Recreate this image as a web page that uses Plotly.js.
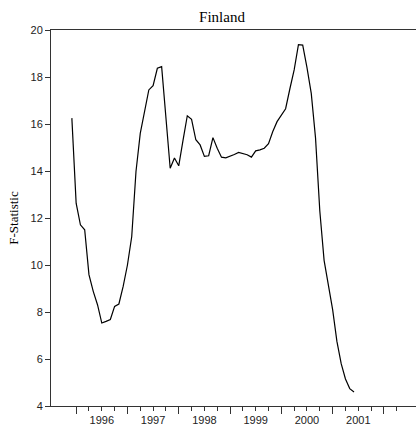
<!DOCTYPE html>
<html>
<head>
<meta charset="utf-8">
<script src="https://cdn.plot.ly/plotly-3.0.1.min.js"></script>
<style>html,body{margin:0;padding:0;background:#fff;}#chart{width:416px;height:427px;}</style>
</head>
<body>
<div id="chart"></div>
<script>
// Monthly F-statistic, Finland, starting December 1995
var startYear = 1995;
var startMonth = 12;
var fStat = [16.25, 12.63, 11.71, 11.5, 9.59, 8.88, 8.31, 7.53, 7.6, 7.68, 8.24, 8.34, 9.09, 10.0, 11.2,
  13.98, 15.6, 16.5, 17.45, 17.63, 18.37, 18.44, 16.1, 14.12, 14.55, 14.22, 15.3, 16.35, 16.2,
  15.33, 15.11, 14.62, 14.65, 15.42, 14.97, 14.59, 14.56, 14.62, 14.7, 14.79, 14.74, 14.69, 14.59, 14.86, 14.9, 14.97,
  15.16, 15.68, 16.1, 16.39, 16.65, 17.5, 18.3, 19.38, 19.36, 18.4, 17.3, 15.4, 12.3, 10.2, 9.2, 8.1, 6.75, 5.8, 5.15, 4.74, 4.6];
var yearLabels = ["1996", "1997", "1998", "1999", "2000", "2001"];
var yTicks = [4, 6, 8, 10, 12, 14, 16, 18, 20];

var xs = fStat.map(function (v, i) { return startYear + (startMonth - 1 + i) / 12; });

// quarter ticks from 1996 to 2002.25; labels at mid-year
var qVals = [], qText = [];
for (var q = 0; q <= 25; q++) {
  var v = 1996 + q / 4;
  qVals.push(v);
  var idx = yearLabels.indexOf(String(Math.floor(v)));
  qText.push((q % 4 === 2 && idx >= 0) ? yearLabels[idx] : "");
}
var yearTicks = [];
for (var y = 1996; y <= 2002; y++) yearTicks.push(y);

var trace = {
  x: xs, y: fStat, type: "scatter", mode: "lines",
  line: {color: "#000", width: 1.2}, hoverinfo: "skip"
};

var tickFont = {family: "Liberation Sans, Arial, sans-serif", size: 11, color: "#222"};

var layout = {
  width: 416, height: 427,
  margin: {l: 51, r: 0, t: 30, b: 21},
  paper_bgcolor: "#fff", plot_bgcolor: "#fff",
  showlegend: false,
  title: {
    text: "Finland",
    font: {family: "Liberation Serif, Times New Roman, serif", size: 15, color: "#000"},
    x: 222 / 416, xref: "container", xanchor: "center",
    y: 1 - 17 / 427, yref: "container", yanchor: "middle"
  },
  xaxis: {
    range: [1995.51, 2002.625],
    showgrid: false, zeroline: false,
    showline: true, linecolor: "#333", linewidth: 1, mirror: true,
    tickmode: "array", tickvals: qVals, ticktext: qText,
    ticks: "outside", ticklen: 4, tickcolor: "#333", tickwidth: 1,
    tickfont: tickFont,
    minor: {tickmode: "array", tickvals: yearTicks, ticks: "outside", ticklen: 7, tickcolor: "#333", tickwidth: 1},
    automargin: false, fixedrange: true
  },
  yaxis: {
    range: [4, 20],
    showgrid: false, zeroline: false,
    showline: true, linecolor: "#333", linewidth: 1,
    tickmode: "array", tickvals: yTicks,
    ticks: "outside", ticklen: 5, tickcolor: "#333", tickwidth: 1,
    tickfont: tickFont,
    title: {text: "F-Statistic", font: {family: "Liberation Serif, Times New Roman, serif", size: 13, color: "#000"}, standoff: 8},
    automargin: false, fixedrange: true
  }
};

Plotly.newPlot("chart", [trace], layout, {displayModeBar: false, staticPlot: true});
</script>
</body>
</html>
